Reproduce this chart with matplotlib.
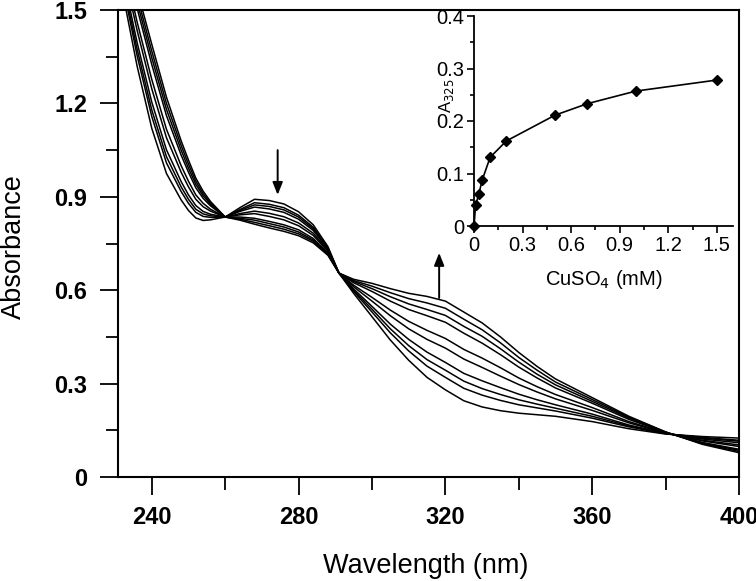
import matplotlib
matplotlib.use("Agg")
import matplotlib.pyplot as plt
from matplotlib.ticker import MultipleLocator, FixedLocator

plt.rcParams['font.family'] = ['Liberation Sans', 'DejaVu Sans']

# wavelength grid (nm) for the titration spectra
wavelength = [230, 233, 236, 240, 244, 248, 250, 252, 254, 256, 260, 264, 268, 272, 276, 280,
              284, 288, 291, 295, 300, 305, 310, 315, 320, 325, 330, 335, 340, 345,
              350, 360, 370, 380, 390, 400]

# absorbance spectra, one per CuSO4 addition (0 -> 1.5 mM)
spec_000 = [1.680, 1.500, 1.320, 1.120, 0.975, 0.890, 0.856, 0.832, 0.824, 0.826, 0.835, 0.865,
            0.892, 0.888, 0.877, 0.852, 0.810, 0.740, 0.655, 0.590, 0.515, 0.440, 0.375, 0.320,
            0.280, 0.245, 0.225, 0.213, 0.205, 0.200, 0.195, 0.178, 0.155, 0.138, 0.130, 0.125]
spec_001 = [1.701, 1.528, 1.354, 1.158, 1.009, 0.917, 0.879, 0.850, 0.837, 0.834, 0.835, 0.859,
            0.881, 0.876, 0.865, 0.841, 0.802, 0.736, 0.655, 0.596, 0.530, 0.463, 0.405, 0.356,
            0.320, 0.285, 0.263, 0.246, 0.232, 0.222, 0.212, 0.189, 0.161, 0.139, 0.127, 0.118]
spec_002 = [1.713, 1.544, 1.374, 1.179, 1.029, 0.932, 0.892, 0.860, 0.845, 0.839, 0.835, 0.856,
            0.874, 0.869, 0.858, 0.835, 0.797, 0.734, 0.655, 0.600, 0.539, 0.476, 0.422, 0.377,
            0.343, 0.308, 0.284, 0.265, 0.248, 0.234, 0.221, 0.195, 0.164, 0.140, 0.125, 0.115]
spec_004 = [1.727, 1.562, 1.396, 1.204, 1.051, 0.949, 0.906, 0.872, 0.853, 0.844, 0.835, 0.853,
            0.867, 0.861, 0.850, 0.828, 0.792, 0.731, 0.655, 0.604, 0.548, 0.491, 0.442, 0.401,
            0.368, 0.333, 0.309, 0.287, 0.266, 0.248, 0.232, 0.202, 0.167, 0.140, 0.122, 0.110]
spec_010 = [1.751, 1.594, 1.435, 1.247, 1.090, 0.979, 0.932, 0.892, 0.868, 0.854, 0.835, 0.846,
            0.854, 0.847, 0.836, 0.816, 0.783, 0.727, 0.655, 0.611, 0.565, 0.518, 0.476, 0.442,
            0.414, 0.379, 0.352, 0.324, 0.297, 0.273, 0.251, 0.214, 0.174, 0.141, 0.118, 0.103]
spec_020 = [1.767, 1.616, 1.462, 1.277, 1.117, 1.000, 0.950, 0.906, 0.879, 0.860, 0.835, 0.842,
            0.846, 0.837, 0.826, 0.807, 0.776, 0.724, 0.655, 0.616, 0.577, 0.536, 0.500, 0.471,
            0.445, 0.410, 0.382, 0.351, 0.318, 0.290, 0.265, 0.223, 0.178, 0.142, 0.116, 0.098]
spec_050 = [1.794, 1.652, 1.506, 1.325, 1.161, 1.034, 0.979, 0.929, 0.895, 0.871, 0.835, 0.835,
            0.831, 0.821, 0.810, 0.794, 0.766, 0.719, 0.655, 0.624, 0.596, 0.565, 0.538, 0.518,
            0.497, 0.462, 0.430, 0.393, 0.353, 0.318, 0.286, 0.237, 0.185, 0.143, 0.111, 0.089]
spec_070 = [1.806, 1.668, 1.526, 1.347, 1.181, 1.050, 0.992, 0.940, 0.903, 0.876, 0.835, 0.831,
            0.825, 0.814, 0.803, 0.787, 0.761, 0.717, 0.655, 0.628, 0.605, 0.579, 0.556, 0.538,
            0.519, 0.484, 0.452, 0.412, 0.369, 0.330, 0.296, 0.243, 0.189, 0.144, 0.109, 0.086]
spec_100 = [1.818, 1.684, 1.545, 1.368, 1.200, 1.065, 1.005, 0.950, 0.910, 0.880, 0.835, 0.828,
            0.818, 0.807, 0.796, 0.781, 0.757, 0.714, 0.655, 0.631, 0.613, 0.592, 0.573, 0.559,
            0.542, 0.507, 0.473, 0.431, 0.384, 0.343, 0.305, 0.249, 0.192, 0.144, 0.107, 0.082]
spec_150 = [1.830, 1.700, 1.565, 1.390, 1.220, 1.080, 1.018, 0.960, 0.918, 0.885, 0.835, 0.825,
            0.812, 0.800, 0.789, 0.775, 0.752, 0.712, 0.655, 0.635, 0.622, 0.605, 0.590, 0.580,
            0.565, 0.530, 0.495, 0.450, 0.400, 0.355, 0.315, 0.255, 0.195, 0.145, 0.105, 0.078]

spectra = [spec_000, spec_001, spec_002, spec_004, spec_010,
           spec_020, spec_050, spec_070, spec_100, spec_150]

# inset: A325 change vs CuSO4 concentration
cu_mm = [0.0, 0.01, 0.03, 0.05, 0.1, 0.2, 0.5, 0.7, 1.0, 1.5]
a325 = [0.0, 0.040, 0.061, 0.087, 0.131, 0.162, 0.211, 0.233, 0.257, 0.278]

x_ticks = [240, 280, 320, 360, 400]
y_ticks = [0, 0.3, 0.6, 0.9, 1.2, 1.5]
y_ticklabels = ['0', '0.3', '0.6', '0.9', '1.2', '1.5']
ins_x_ticks = [0, 0.3, 0.6, 0.9, 1.2, 1.5]
ins_x_ticklabels = ['0', '0.3', '0.6', '0.9', '1.2', '1.5']
ins_y_ticks = [0, 0.1, 0.2, 0.3, 0.4]
ins_y_ticklabels = ['0', '0.1', '0.2', '0.3', '0.4']

# arrows (wavelength, start, end)
arrow_down = (274.3, 1.05, 0.906)
arrow_up = (318.3, 0.575, 0.72)

W, H = 756, 581
fig = plt.figure(figsize=(W / 100, H / 100), dpi=100)
ax = fig.add_axes([118 / W, 104 / H, 621 / W, 467 / H])

for s in spectra:
    ax.plot(wavelength, s, color='black', lw=1.1)

ax.set_xlim(230.8, 400)
ax.set_ylim(0, 1.5)
ax.set_xticks(x_ticks)
ax.set_xticklabels([str(t) for t in x_ticks], fontweight='bold')
ax.set_yticks(y_ticks)
ax.set_yticklabels(y_ticklabels, fontweight='bold')
ax.xaxis.set_minor_locator(FixedLocator([260, 300, 340, 380]))
ax.yaxis.set_minor_locator(FixedLocator([0.15, 0.45, 0.75, 1.05, 1.35]))
ax.tick_params(which='major', direction='out', length=13, width=1.3, labelsize=17)
ax.tick_params(which='minor', direction='out', length=9, width=1.3)
ax.tick_params(axis='x', pad=8)
ax.tick_params(axis='y', pad=9)
for sp in ax.spines.values():
    sp.set_linewidth(1.5)

ax.set_xlabel('Wavelength (nm)', fontsize=19.5)
ax.set_ylabel('Absorbance', fontsize=19.5)
ax.xaxis.label.set_va('center')
ax.yaxis.label.set_va('center')
ax.xaxis.set_label_coords(0.496, -0.19)
ax.yaxis.set_label_coords(-0.168, 0.4925)

arrow_props = dict(arrowstyle='-|>,head_length=0.75,head_width=0.3', color='black',
                   lw=1.4, shrinkA=0, shrinkB=0)
ax.annotate('', xy=(arrow_down[0], arrow_down[2]), xytext=(arrow_down[0], arrow_down[1]),
            arrowprops=arrow_props)
ax.annotate('', xy=(arrow_up[0], arrow_up[2]), xytext=(arrow_up[0], arrow_up[1]),
            arrowprops=arrow_props)

# inset
ins = fig.add_axes([474 / W, 355 / H, 259 / W, 210 / H])
ins.patch.set_alpha(0)
ins.plot(cu_mm, a325, color='black', lw=1.2, marker='D', ms=5.5, clip_on=False)
ins.set_xlim(0, 1.6)
ins.set_ylim(0, 0.4)
ins.spines['top'].set_visible(False)
ins.spines['right'].set_visible(False)
for sp in ['left', 'bottom']:
    ins.spines[sp].set_linewidth(1.3)
ins.set_xticks(ins_x_ticks)
ins.set_xticklabels(ins_x_ticklabels)
ins.set_yticks(ins_y_ticks)
ins.set_yticklabels(ins_y_ticklabels)
ins.xaxis.set_minor_locator(MultipleLocator(0.15))
ins.yaxis.set_minor_locator(MultipleLocator(0.05))
ins.tick_params(which='major', direction='out', length=5, width=1.2, labelsize=14.5, pad=2)
ins.tick_params(which='minor', direction='out', length=3, width=1.2)
ins.set_xlabel('CuSO$_4$ (mM)', fontsize=14.5)
ins.set_ylabel('A$_{325}$', fontsize=12)
ins.yaxis.label.set_va('center')
ins.xaxis.set_label_coords(0.5, -0.2)
ins.yaxis.set_label_coords(-0.108, 0.62)

fig.savefig('out.png', dpi=100)
